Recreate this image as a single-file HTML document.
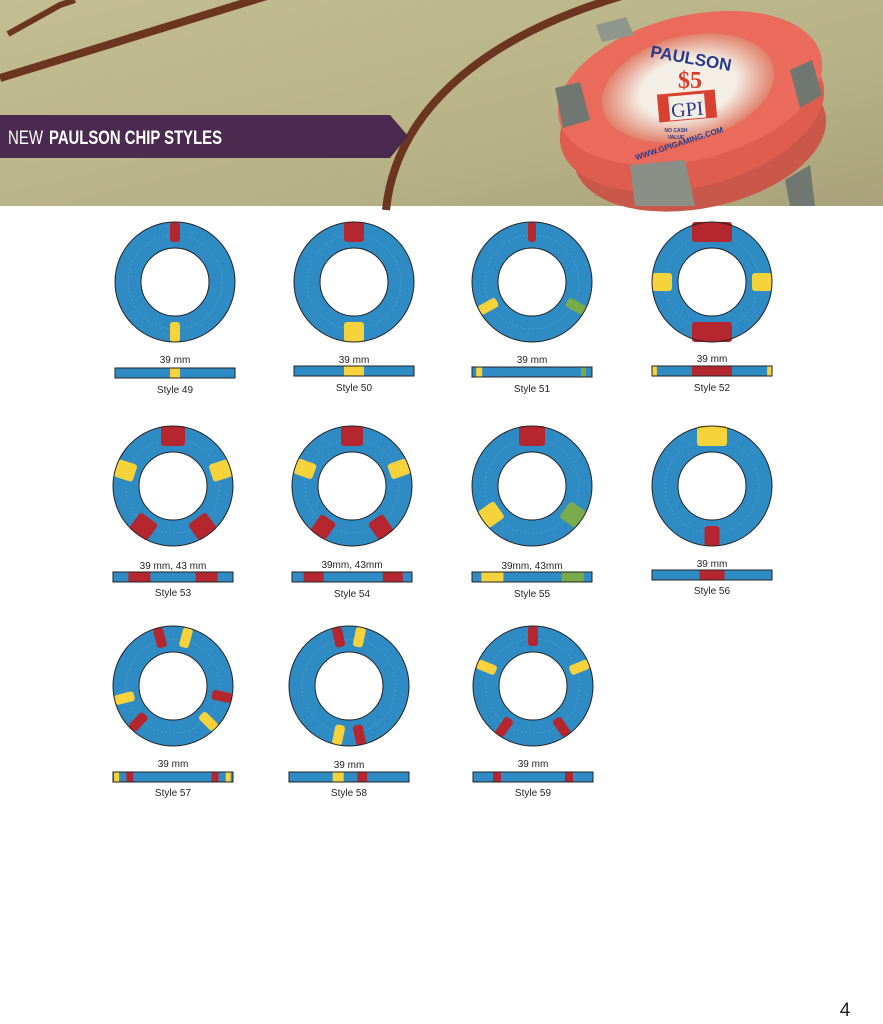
<!DOCTYPE html>
<html><head><meta charset="utf-8"><style>
html,body{margin:0;padding:0;background:#fff}
body{width:883px;height:1024px;position:relative;overflow:hidden;font-family:"Liberation Sans",sans-serif}
svg{position:absolute;left:0;top:0}
.l{font-family:"Liberation Sans",sans-serif;font-size:10px;fill:#231f20;text-anchor:middle}
</style></head><body>
<svg width="883" height="1024" viewBox="0 0 883 1024" xmlns="http://www.w3.org/2000/svg">
<defs>
<linearGradient id="bg" x1="0" y1="0" x2="1" y2="1">
<stop offset="0" stop-color="#c3bd92"/><stop offset="0.6" stop-color="#b8b387"/><stop offset="1" stop-color="#a9a27a"/></linearGradient>
<radialGradient id="face" cx="0.5" cy="0.5" r="0.5"><stop offset="0.55" stop-color="#f4efe6"/><stop offset="1" stop-color="#e0806a"/></radialGradient>
</defs>
<rect x="0" y="0" width="883" height="206" fill="url(#bg)"/>
<path d="M0 78 L270 -5" stroke="#6b3520" stroke-width="8" fill="none"/>
<path d="M8 34 L60 5 L75 0" stroke="#6b3520" stroke-width="6" fill="none"/>
<path d="M386 210 C395 120 470 40 625 -5" stroke="#6b3520" stroke-width="8" fill="none"/>
<!-- photo chip -->
<ellipse cx="700" cy="140" rx="128" ry="68" fill="#c9574a" transform="rotate(-12 700 140)"/>
<ellipse cx="692" cy="115" rx="135" ry="72" fill="#de5d4f" transform="rotate(-14 692 115)"/>
<ellipse cx="690" cy="88" rx="135" ry="72" fill="#ea6a5b" transform="rotate(-14 690 88)"/>
<ellipse cx="688" cy="88" rx="88" ry="52" fill="url(#face)" transform="rotate(-14 688 88)"/>
<path d="M596 25 L626 17 L634 35 L602 42 Z" fill="#8f978d"/>
<path d="M790 70 L812 60 L822 95 L800 108 Z" fill="#6f7770"/>
<path d="M555 88 L580 82 L590 120 L563 128 Z" fill="#6f7770"/>
<path d="M630 165 L685 160 L695 206 L635 206 Z" fill="#8a9087"/>
<path d="M785 180 L810 165 L815 206 L790 206 Z" fill="#6f7770"/>
<text x="690" y="64" font-family="Liberation Sans" font-weight="bold" font-size="17" fill="#2a3a8a" text-anchor="middle" transform="rotate(10 690 64)">PAULSON</text>
<text x="690" y="88" font-family="Liberation Serif" font-weight="bold" font-size="24" fill="#d83a2c" text-anchor="middle">$5</text>
<rect x="658" y="92" width="58" height="28" fill="#d84030" transform="rotate(-5 687 106)"/>
<rect x="669" y="95" width="36" height="24" fill="#f4efe6" transform="rotate(-5 687 106)"/>
<text x="687" y="116" font-family="Liberation Serif" font-size="20" fill="#2a3a8a" text-anchor="middle" transform="rotate(-5 687 106)">GPI</text>
<text x="676" y="132" font-family="Liberation Sans" font-weight="bold" font-size="5" fill="#2a3a8a" text-anchor="middle">NO CASH</text>
<text x="676" y="139" font-family="Liberation Sans" font-weight="bold" font-size="5" fill="#2a3a8a" text-anchor="middle">VALUE</text>
<text x="680" y="146" font-family="Liberation Sans" font-weight="bold" font-size="8" fill="#2a3a8a" text-anchor="middle" transform="rotate(-18 680 146)">WWW.GPIGAMING.COM</text>
<!-- banner -->
<path d="M0 115 L390 115 L408 136 L390 158 L0 158 Z" fill="#4b2a50"/>
<text x="8" y="144" font-family="Liberation Sans" font-size="19" fill="#fff" textLength="35" lengthAdjust="spacingAndGlyphs">NEW</text>
<text x="49" y="144" font-family="Liberation Sans" font-weight="bold" font-size="19" fill="#fff" textLength="173" lengthAdjust="spacingAndGlyphs">PAULSON CHIP STYLES</text>
<g id="chips"></g>
<text class="l" x="175" y="363">39 mm</text><text class="l" x="175" y="393">Style 49</text>
<text class="l" x="354" y="363">39 mm</text><text class="l" x="354" y="391">Style 50</text>
<text class="l" x="532" y="363">39 mm</text><text class="l" x="532" y="392">Style 51</text>
<text class="l" x="712" y="362">39 mm</text><text class="l" x="712" y="391">Style 52</text>
<text class="l" x="173" y="569">39 mm, 43 mm</text><text class="l" x="173" y="596">Style 53</text>
<text class="l" x="352" y="568">39mm, 43mm</text><text class="l" x="352" y="597">Style 54</text>
<text class="l" x="532" y="569">39mm, 43mm</text><text class="l" x="532" y="597">Style 55</text>
<text class="l" x="712" y="567">39 mm</text><text class="l" x="712" y="594">Style 56</text>
<text class="l" x="173" y="767">39 mm</text><text class="l" x="173" y="796">Style 57</text>
<text class="l" x="349" y="768">39 mm</text><text class="l" x="349" y="796">Style 58</text>
<text class="l" x="533" y="767">39 mm</text><text class="l" x="533" y="796">Style 59</text>
<text x="845" y="1016" font-family="Liberation Sans" font-size="19" fill="#231f20" text-anchor="middle">4</text>
</svg>
<script>
var B="#2f8bc4",R="#b5262f",Y="#f6d23b",G="#79ab4a";
var chips=[
 [175,282,[[0,10,R],[180,10,Y]],368,[[0.5,10,Y]]],
 [354,282,[[0,20,R],[180,20,Y]],366,[[0.5,20,Y]]],
 [532,282,[[0,8,R],[241,10,Y],[119,10,G]],367,[[0.06,6,Y],[0.93,5,G]]],
 [712,282,[[0,40,R],[180,40,R],[90,18,Y],[270,18,Y]],366,[[0.02,5,Y],[0.5,40,R],[0.98,5,Y]]],
 [173,486,[[0,24,R],[72,18,Y],[288,18,Y],[144,22,R],[216,22,R]],572,[[0.22,22,R],[0.78,22,R]]],
 [352,486,[[0,22,R],[70,16,Y],[290,16,Y],[145,18,R],[215,18,R]],572,[[0.18,20,R],[0.84,20,R]]],
 [532,486,[[0,26,R],[235,20,Y],[125,20,G]],572,[[0.17,22,Y],[0.84,22,G]]],
 [712,486,[[0,30,Y],[180,15,R]],570,[[0.5,25,R]]],
 [173,686,[[-15,10,R],[15,10,Y],[102,10,R],[135,10,Y],[224,10,R],[256,10,Y]],772,[[0.03,5,Y],[0.14,7,R],[0.85,7,R],[0.96,5,Y]]],
 [349,686,[[-12,10,R],[12,10,Y],[168,10,R],[192,10,Y]],772,[[0.41,11,Y],[0.61,10,R]]],
 [533,686,[[0,10,R],[68,10,Y],[292,10,Y],[145,10,R],[215,10,R]],772,[[0.2,8,R],[0.8,8,R]]]
];
var ns="http://www.w3.org/2000/svg",g=document.getElementById("chips");
function el(t,a){var e=document.createElementNS(ns,t);for(var k in a)e.setAttribute(k,a[k]);g.appendChild(e);return e;}
chips.forEach(function(c){
 var cx=c[0],cy=c[1],ro=60,ri=34;
 el("circle",{cx:cx,cy:cy,r:(ro+ri)/2,fill:"none",stroke:B,"stroke-width":ro-ri});
 el("circle",{cx:cx,cy:cy,r:47,fill:"none",stroke:"#5aa3d2","stroke-width":0.6,"stroke-dasharray":"2 2"});
 c[2].forEach(function(s){
  el("rect",{x:cx-s[1]/2,y:cy-ro,width:s[1],height:ro-ri-6,rx:3,fill:s[2],transform:"rotate("+s[0]+" "+cx+" "+cy+")"});
 });
 el("circle",{cx:cx,cy:cy,r:ro,fill:"none",stroke:"#222","stroke-width":1});
 el("circle",{cx:cx,cy:cy,r:ri,fill:"#fff",stroke:"#222","stroke-width":1});
 var by=c[3],bx=cx-60;
 el("rect",{x:bx,y:by,width:120,height:10,fill:B});
 c[4].forEach(function(s){el("rect",{x:bx+s[0]*120-s[1]/2,y:by,width:s[1],height:10,fill:s[2]});});
 el("rect",{x:bx,y:by,width:120,height:10,fill:"none",stroke:"#222","stroke-width":1});
});
</script>
</body></html>
